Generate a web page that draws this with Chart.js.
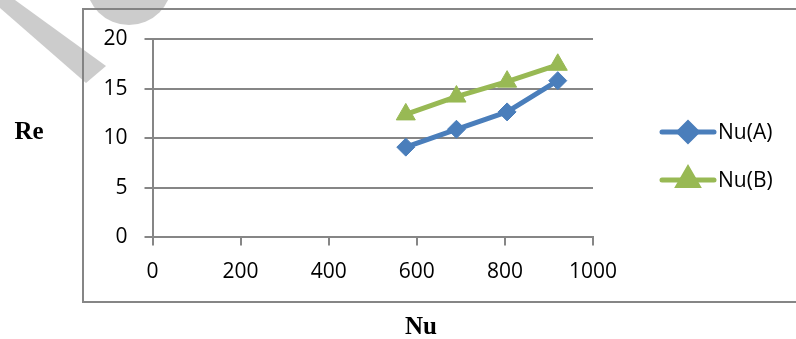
<!DOCTYPE html>
<html>
<head>
<meta charset="utf-8">
<script src="https://cdn.jsdelivr.net/npm/chart.js@4/dist/chart.umd.min.js"></script>
<style>
  html, body { margin: 0; padding: 0; background: #ffffff; overflow: hidden; }
  #wrap { width: 796px; height: 339px; }
</style>
</head>
<body>
<div id="wrap"><canvas id="chart" width="796" height="339"></canvas></div>
<script>
// Nu values (x) shared by both series
const nuValues = [575, 690, 805, 920];
// Re values for each series
const seriesA = [9.1, 10.9, 12.65, 15.8];
const seriesB = [12.4, 14.2, 15.7, 17.4];
const seriesNames = ['Nu(A)', 'Nu(B)'];
// Axis tick values
const xTicks = [0, 200, 400, 600, 800, 1000];
const yTicks = [0, 5, 10, 15, 20];
const axisTitles = { x: 'Nu', y: 'Re' };

const BLUE = '#4a7ebb';
const GREEN = '#98b954';
const GRID = '#868686';
const TICK_FONT = { family: '"Open Sans", "Liberation Sans", sans-serif', size: 21 };

function toPoints(xs, ys) {
  return xs.map((x, i) => ({ x: x, y: ys[i] }));
}

// Outer chart border, drawn beneath everything else
const framePlugin = {
  id: 'frame',
  beforeDraw(chart) {
    const ctx = chart.ctx;
    ctx.save();
    ctx.fillStyle = '#ffffff';
    ctx.fillRect(0, 0, chart.width, chart.height);
    ctx.strokeStyle = GRID;
    ctx.lineWidth = 2;
    ctx.beginPath();
    ctx.moveTo(chart.width + 5, 9);
    ctx.lineTo(83, 9);
    ctx.lineTo(83, 302);
    ctx.lineTo(chart.width + 5, 302);
    ctx.stroke();
    ctx.restore();
  }
};

// Axis titles and the line-with-marker legend on the right
const extrasPlugin = {
  id: 'extras',
  afterDraw(chart) {
    const ctx = chart.ctx;
    ctx.save();
    ctx.fillStyle = '#000000';
    ctx.font = 'bold 25px "Liberation Serif", "Times New Roman", serif';
    ctx.textAlign = 'center';
    ctx.textBaseline = 'middle';
    ctx.fillText(axisTitles.y, 29, 133);
    ctx.fillText(axisTitles.x, 421, 328);

    const rows = [132, 180];
    chart.data.datasets.forEach((ds, i) => {
      const y = rows[i];
      ctx.strokeStyle = ds.borderColor;
      ctx.lineWidth = 5;
      ctx.lineCap = 'round';
      ctx.beginPath();
      ctx.moveTo(662, y);
      ctx.lineTo(714, y);
      ctx.stroke();
      ctx.fillStyle = ds.pointBackgroundColor;
      ctx.strokeStyle = ds.pointBorderColor;
      Chart.helpers.drawPoint(ctx, {
        pointStyle: ds.pointStyle,
        radius: ds.pointRadius,
        rotation: 0,
        borderWidth: 1
      }, 688, y);
      ctx.fillStyle = '#000000';
      ctx.font = '21px "Open Sans", "Liberation Sans", sans-serif';
      ctx.textAlign = 'left';
      ctx.textBaseline = 'middle';
      ctx.fillText(ds.label, 718, y + 1);
    });
    ctx.restore();
  }
};

// Faint grey watermark shapes in the upper-left corner
const watermarkPlugin = {
  id: 'watermark',
  afterDraw(chart) {
    const ctx = chart.ctx;
    ctx.save();
    ctx.fillStyle = 'rgba(128,128,128,0.4)';
    ctx.beginPath();
    ctx.moveTo(0, 0);
    ctx.lineTo(15, 0);
    ctx.lineTo(106, 66);
    ctx.lineTo(86, 83);
    ctx.lineTo(0, 8);
    ctx.closePath();
    ctx.fill();
    ctx.beginPath();
    ctx.arc(129, -18, 43, 0, Math.PI * 2);
    ctx.fill();
    ctx.restore();
  }
};

new Chart(document.getElementById('chart'), {
  type: 'scatter',
  data: {
    datasets: [
      {
        label: seriesNames[0],
        data: toPoints(nuValues, seriesA),
        showLine: true,
        borderColor: BLUE,
        backgroundColor: BLUE,
        pointBackgroundColor: BLUE,
        pointBorderColor: BLUE,
        borderWidth: 5,
        pointStyle: 'rectRot',
        pointRadius: 9,
        pointBorderWidth: 1,
        borderJoinStyle: 'round',
        borderCapStyle: 'round',
        tension: 0
      },
      {
        label: seriesNames[1],
        data: toPoints(nuValues, seriesB),
        showLine: true,
        borderColor: GREEN,
        backgroundColor: GREEN,
        pointBackgroundColor: GREEN,
        pointBorderColor: GREEN,
        borderWidth: 5,
        pointStyle: 'triangle',
        pointRadius: 11,
        pointBorderWidth: 1,
        borderJoinStyle: 'round',
        borderCapStyle: 'round',
        tension: 0
      }
    ]
  },
  options: {
    responsive: false,
    animation: false,
    events: [],
    layout: { padding: { left: 82.5, right: 203, top: 39, bottom: 51.6 } },
    plugins: {
      legend: { display: false },
      tooltip: { enabled: false }
    },
    scales: {
      x: {
        type: 'linear',
        min: 0,
        max: 1000,
        afterBuildTicks(scale) { scale.ticks = xTicks.map(v => ({ value: v })); },
        afterFit(scale) { scale.height = 50; },
        ticks: { color: '#000000', font: TICK_FONT, padding: 14, maxRotation: 0, callback: v => String(v) },
        grid: { drawOnChartArea: false, drawTicks: true, tickLength: 8, color: GRID, lineWidth: 2 },
        border: { color: GRID, width: 2 }
      },
      y: {
        type: 'linear',
        min: 0,
        max: 20,
        afterBuildTicks(scale) { scale.ticks = yTicks.map(v => ({ value: v })); },
        afterFit(scale) { scale.width = 70; },
        ticks: { color: '#000000', font: TICK_FONT, padding: 17, callback: v => String(v) },
        grid: { color: GRID, lineWidth: 2, tickLength: 8 },
        border: { color: GRID, width: 2 }
      }
    }
  },
  plugins: [framePlugin, extrasPlugin, watermarkPlugin]
});
</script>
</body>
</html>
